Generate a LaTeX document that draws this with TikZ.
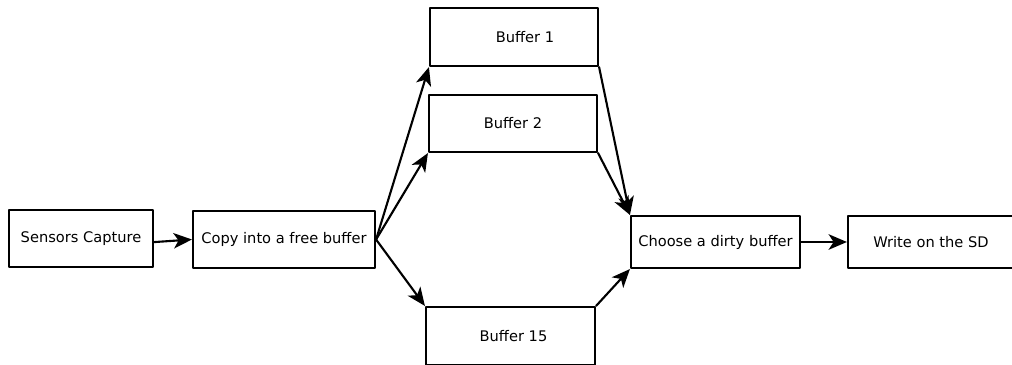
\documentclass[tikz,border=0pt]{standalone}
\usepackage{fontspec}
\setmainfont{DejaVu Sans}
\usetikzlibrary{arrows.meta}

\begin{document}
\begin{tikzpicture}[line cap=round,line join=round,x=0.025cm,y=-0.025cm,
    block/.style={draw, line width=1.5pt, rectangle, inner sep=1pt, font=\fontsize{10.4}{12.5}\selectfont},
    flow/.style={line width=1.5pt, -{Stealth[length=13pt,width=11pt,inset=3.5pt]}}]

    \useasboundingbox (0,0) rectangle (1012,365);

    \draw (81,238.5) node[block, minimum width=3.6cm, minimum height=1.425cm] (sensors) {Sensors Capture};
    \draw (284,239.5) node[block, minimum width=4.55cm, minimum height=1.425cm] (copy) {Copy into a free buffer};
    \draw (514,37) node[block, minimum width=4.2cm, minimum height=1.45cm] (buf1) {\hspace{0.55cm}Buffer 1};
    \draw (513,123.5) node[block, minimum width=4.2cm, minimum height=1.425cm] (buf2) {Buffer 2};
    \draw (510.5,336) node[block, minimum width=4.225cm, minimum height=1.45cm] (buf15) {\hspace{0.15cm}Buffer 15};
    \draw (715.5,242) node[block, minimum width=4.225cm, minimum height=1.3cm] (choose) {Choose a dirty buffer};
    \draw (931,242) node[block, minimum width=4.15cm, minimum height=1.3cm] (sd) {Write on the SD};

    % Capture into a buffer
    \draw[flow] ([yshift=-0.09cm]sensors.east) -- (copy.west);
    \draw[flow] (copy.east) -- (buf1.south west);
    \draw[flow] (copy.east) -- (buf2.south west);
    \draw[flow] (copy.east) -- (buf15.north west);
    % Buffers to the writer
    \draw[flow] (buf1.south east) -- (choose.north west);
    \draw[flow] (buf2.south east) -- (choose.north west);
    \draw[flow] (buf15.north east) -- (choose.south west);
    \draw[flow] (choose.east) -- (sd.west);
\end{tikzpicture}
\end{document}
